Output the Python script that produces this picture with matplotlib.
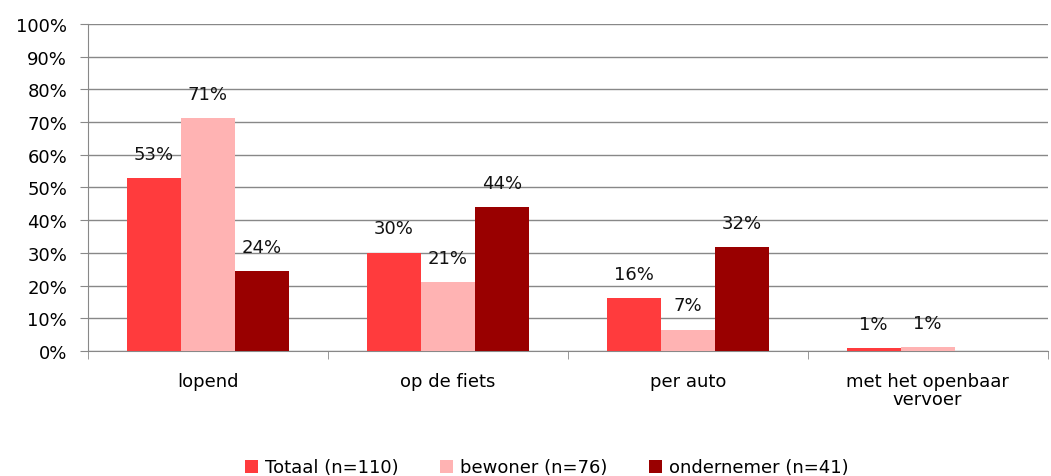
import numpy as np
import matplotlib.pyplot as plt

categories = ['lopend', 'op de fiets', 'per auto', 'met het openbaar\nvervoer']
series_names = ['Totaal (n=110)', 'bewoner (n=76)', 'ondernemer (n=41)']
totaal = [52.9, 30.1, 16.2, 0.8]
bewoner = [71.1, 21.0, 6.5, 1.2]
ondernemer = [24.4, 43.9, 31.7, 0.0]
labels_totaal = ['53%', '30%', '16%', '1%']
labels_bewoner = ['71%', '21%', '7%', '1%']
labels_ondernemer = ['24%', '44%', '32%', '']

colors = ['#FF3B3D', '#FFB3B3', '#990000']
plt.rcParams['font.family'] = ['DejaVu Sans']
fs = 13

fig = plt.figure(figsize=(10.51, 4.77), dpi=100)
ax = fig.add_axes([0.0837, 0.262, 0.913, 0.686])

x = np.arange(len(categories))
w = 0.225
values = [totaal, bewoner, ondernemer]
labels = [labels_totaal, labels_bewoner, labels_ondernemer]
for i, (vals, labs) in enumerate(zip(values, labels)):
    pos = x + (i - 1) * w
    ax.bar(pos, vals, width=w, color=colors[i], label=series_names[i], zorder=3)
    for p, v, lab in zip(pos, vals, labs):
        if lab:
            ax.annotate(lab, (p, v), xytext=(0, 11), textcoords='offset points',
                        ha='center', va='bottom', fontsize=fs, color='#111111')

ax.set_xlim(-0.5, len(categories) - 0.5)
ax.set_ylim(0, 100)
ax.set_yticks(range(0, 101, 10))
ax.set_yticklabels([f'{t}%' for t in range(0, 101, 10)], fontsize=fs)
ax.yaxis.grid(True, color='#888888', linewidth=1, zorder=0)

ax.set_xticks(x)
ax.set_xticklabels(categories, fontsize=fs, linespacing=1.0)
ax.tick_params(axis='x', length=0, pad=15)
ax.set_xticks(np.arange(len(categories) + 1) - 0.5, minor=True)
ax.tick_params(axis='x', which='minor', length=6, color='#888888')
ax.tick_params(axis='y', length=6, color='#888888', pad=9)

for s in ['top', 'right']:
    ax.spines[s].set_visible(False)
for s in ['left', 'bottom']:
    ax.spines[s].set_color('#888888')

fig.legend(loc='lower center', bbox_to_anchor=(0.52, -0.035), ncol=3, frameon=False,
           fontsize=fs, handlelength=0.75, handleheight=0.75, handletextpad=0.35,
           columnspacing=2.3)

fig.savefig('out.png', dpi=100)
